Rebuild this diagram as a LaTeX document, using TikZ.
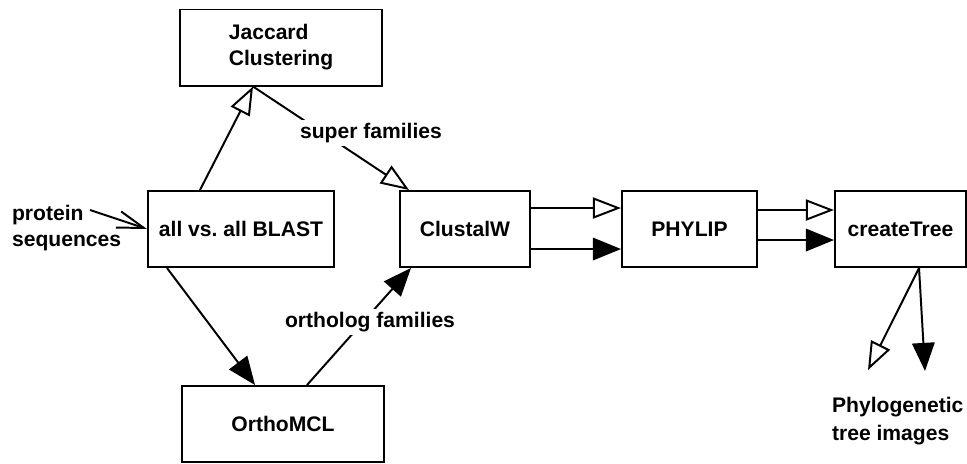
\documentclass[tikz,border=0pt]{standalone}
\usepackage{fontspec}
\setmainfont{Liberation Sans}
\usetikzlibrary{arrows.meta, calc}
\tikzstyle{process} = [
    rectangle,
    draw=black,
    line width=1.4pt,
    minimum height=1.9cm,
    inner sep=2pt,
    align=left,
    font=\fontsize{15}{18.5}\selectfont\bfseries
]
\tikzstyle{annot} = [
    inner sep=2pt,
    align=left,
    font=\fontsize{15}{18.5}\selectfont\bfseries
]
\tikzstyle{openarrow} = [
    line width=1.4pt,
    -{Triangle[open, length=20pt, width=15pt, fill=white]}
]
\tikzstyle{fillarrow} = [
    line width=1.4pt,
    -{Triangle[length=20pt, width=16pt]}
]
\tikzstyle{inarrow} = [
    line width=1.4pt,
    -{Straight Barb[length=19pt, width=12pt]}
]

\begin{document}
\begin{tikzpicture}[x=0.025cm, y=-0.025cm]
        \useasboundingbox (0,0) rectangle (967,463);

        % Boxes
        \node[process, minimum width=5.05cm] (jac) at (281,47.5) {Jaccard\\Clustering};
        \node[process, minimum width=4.65cm] (blast) at (241,229) {all vs.\ all BLAST};
        \node[process, minimum width=5.05cm] (ortho) at (283,424) {OrthoMCL};
        \node[process, minimum width=3.25cm] (clus) at (465,229) {ClustalW};
        \node[process, minimum width=3.375cm] (phy) at (689.5,229) {PHYLIP};
        \node[process, minimum width=3.275cm] (tree) at (900.5,229) {createTree};

        % Input and output
        \node[annot, anchor=west] (prot) at (9,228) {protein\\sequences};
        \coordinate (protin) at (90,210);
        \node[annot, anchor=west, font=\fontsize{15}{20}\selectfont\bfseries] (images) at (829,421) {Phylogenetic\\tree images};
        \coordinate (outopen) at (868,370);
        \coordinate (outfill) at (925,371);

        % Arrows
        \draw[inarrow] (protin) -- (blast.west);
        \draw[openarrow] ([xshift=1.325cm]blast.north west) -- ([xshift=1.85cm]jac.south west);
        \draw[openarrow] ([xshift=1.85cm]jac.south west) -- ([xshift=0.25cm]clus.north west);
        \draw[fillarrow] ([xshift=0.5cm]blast.south west) -- ([xshift=1.85cm]ortho.north west);
        \draw[fillarrow] ([xshift=3.15cm]ortho.north west) -- ([xshift=0.3cm]clus.south west);
        \draw[openarrow] ([yshift=-0.45cm]clus.north east) -- ([yshift=-0.45cm]phy.north west);
        \draw[fillarrow] ([yshift=-1.475cm]clus.north east) -- ([yshift=-1.475cm]phy.north west);
        \draw[openarrow] ([yshift=-0.5cm]phy.north east) -- ([yshift=-0.5cm]tree.north west);
        \draw[fillarrow] ([yshift=-1.25cm]phy.north east) -- ([yshift=-1.25cm]tree.north west);
        \draw[openarrow] ([xshift=2.125cm]tree.south west) -- (outopen);
        \draw[fillarrow] ([xshift=2.125cm]tree.south west) -- (outfill);

        % Edge labels
        \node[annot, fill=white] (supfam) at (371,133) {super families};
        \node[annot, fill=white] (orthfam) at (370,322) {ortholog families};
    \end{tikzpicture}
\end{document}
